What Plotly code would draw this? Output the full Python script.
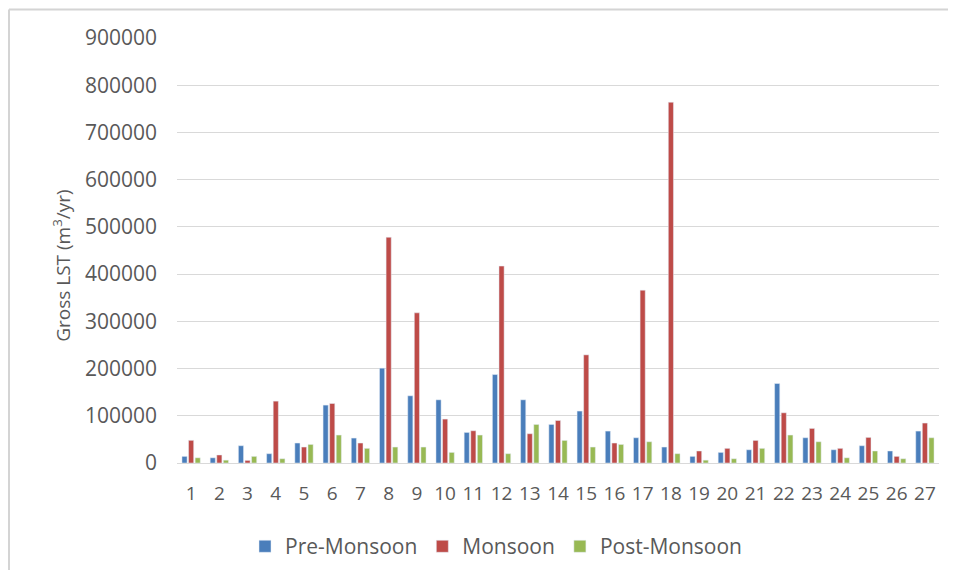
import plotly.graph_objects as go

categories = [str(i) for i in range(1, 28)]
pre_monsoon = [14000, 11000, 36600, 19700, 42300, 122600, 52800, 200800, 142300, 133800,
               64700, 187300, 133800, 81600, 110000, 67600, 53500, 33800, 14000, 22400,
               28000, 168300, 53500, 28000, 36600, 25400, 67600]
monsoon = [48000, 17000, 5500, 131000, 33800, 126000, 42300, 478000, 318000, 93000,
           68300, 417000, 62000, 90000, 229000, 42300, 366000, 764000, 25400, 31000,
           47800, 106300, 73200, 31000, 54200, 14000, 84600]
post_monsoon = [11000, 6000, 14000, 9000, 39300, 59200, 31000, 33800, 33800, 22400,
                59200, 19700, 81600, 47800, 33800, 39300, 45000, 19700, 6000, 9000,
                31000, 59200, 45000, 11000, 25400, 9000, 53500]
y_ticks = [0, 100000, 200000, 300000, 400000, 500000, 600000, 700000, 800000, 900000]
y_title = "Gross LST (m<sup>3</sup>/yr)"

FONT = "Open Sans"
GRAY = "#595959"

fig = go.Figure()
fig.add_bar(x=categories, y=pre_monsoon, name="Pre-Monsoon", marker_color="#4a7ebb")
fig.add_bar(x=categories, y=monsoon, name="Monsoon", marker_color="#be4b48")
fig.add_bar(x=categories, y=post_monsoon, name="Post-Monsoon", marker_color="#98b954")

# page offset of the figure (body margin)
OFF = 8
# plot area in screen pixels: x 177..939, y 38..463
SX0, SX1, SY0, SY1 = 177, 939, 38, 463.3
FW, FH = 940, 562
L = SX0 - OFF
T = SY0 - OFF
R = FW - (SX1 - OFF)
B = FH - (SY1 - OFF)
W, H = FW - L - R, FH - T - B

def px_x(sp):
    return (sp - OFF - L) / W

def px_y(sp):
    return (FH - B - (sp - OFF)) / H

shapes = [
    dict(type="line", xref="paper", yref="paper", x0=px_x(9), x1=px_x(970), y0=px_y(9.5), y1=px_y(9.5),
         line=dict(color="#d4d4d4", width=2)),
    dict(type="line", xref="paper", yref="paper", x0=px_x(9), x1=px_x(9), y0=px_y(9.5), y1=px_y(600),
         line=dict(color="#d4d4d4", width=2)),
]

annotations = [
    dict(text=y_title, xref="paper", yref="paper", x=px_x(62), y=px_y(266), textangle=-90,
         xanchor="center", yanchor="middle", showarrow=False,
         font=dict(family=FONT, size=19, color=GRAY)),
]

fig.update_layout(
    width=FW, height=FH,
    margin=dict(l=L, r=R, t=T, b=B, autoexpand=False),
    paper_bgcolor="white", plot_bgcolor="white",
    barmode="group", bargap=0.3, bargroupgap=0.22,
    font=dict(family=FONT, color=GRAY, size=19),
    shapes=shapes,
    annotations=annotations,
    legend=dict(orientation="h", x=px_x(496), xanchor="center", y=px_y(547), yanchor="middle",
                font=dict(family=FONT, size=21, color=GRAY), itemwidth=30, traceorder="normal"),
    xaxis=dict(type="category", showgrid=False, showline=False, ticks="",
               tickfont=dict(family=FONT, size=19, color=GRAY), ticklabelstandoff=17),
    yaxis=dict(range=[0, 900000], tickvals=y_ticks, ticktext=[str(v) for v in y_ticks],
               showgrid=True, gridcolor="#d9d9d9", gridwidth=1, zeroline=True,
               zerolinecolor="#d9d9d9", zerolinewidth=1, showline=False, ticks="",
               tickfont=dict(family=FONT, size=21, color=GRAY), ticklabelstandoff=19),
)

fig.write_html("out.html")
